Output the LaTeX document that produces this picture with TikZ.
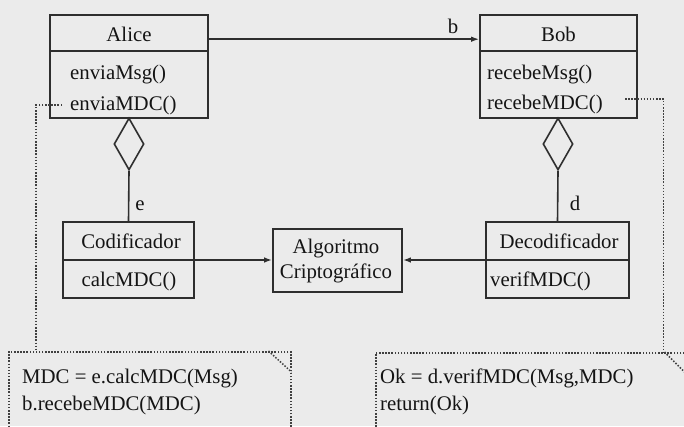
\documentclass[tikz,border=0pt]{standalone}
\usepackage{fontspec}
\setmainfont{Liberation Serif}
\usetikzlibrary{shapes.geometric,arrows.meta,calc}

\begin{document}
\begin{tikzpicture}[x=1pt,y=-1pt,
  ink/.style={draw=black!82, line width=1.6pt},
  classbox/.style={ink, rectangle, inner sep=0pt},
  txt/.style={inner sep=0pt, anchor=base, text=black!92, font=\fontsize{20.8}{24}\selectfont},
  ltxt/.style={txt, anchor=base west},
  assoc/.style={ink, -{Latex[length=8pt,width=5.5pt]}},
  aggr/.style={ink, diamond, minimum width=30pt, minimum height=52pt, inner sep=0pt},
  notedots/.style={draw=black!75, line width=1.5pt, dash pattern=on 1.5pt off 1.6pt},
  notebox/.style={notedots, rectangle, inner sep=0pt, anchor=north west},
]
% page tone and frame
\fill[black!8] (0,0) rectangle (684,426);
\useasboundingbox (0,0) rectangle (684,426);
\clip (0,0) rectangle (684,426);

% ---- classes ----
\node[classbox, minimum width=158pt, minimum height=103pt] (alice) at (129,66.5) {};
\draw[ink] ($(alice.north west)+(0,37)$) -- ($(alice.north east)+(0,37)$);
\node[txt] (aliceT) at (129,41) {Alice};
\node[ltxt] (aliceM1) at (70,79) {enviaMsg()};
\node[ltxt] (aliceM2) at (70,110) {enviaMDC()};

\node[classbox, minimum width=157pt, minimum height=103pt] (bob) at (558.5,66.5) {};
\draw[ink] ($(bob.north west)+(0,37)$) -- ($(bob.north east)+(0,37)$);
\node[txt] (bobT) at (558.5,41) {Bob};
\node[ltxt] (bobM1) at (487,79) {recebeMsg()};
\node[ltxt] (bobM2) at (487,109) {recebeMDC()};

\node[classbox, minimum width=131pt, minimum height=76pt] (cod) at (128.5,260) {};
\draw[ink] ($(cod.north west)+(0,39)$) -- ($(cod.north east)+(0,39)$);
\node[txt] (codT) at (131,248) {Codificador};
\node[txt] (codM) at (129,286) {calcMDC()};

\node[classbox, minimum width=129pt, minimum height=63pt] (alg) at (337.5,260.5) {};
\node[txt] (algT1) at (336,253) {Algoritmo};
\node[txt] (algT2) at (336,278) {Criptográfico};

\node[classbox, minimum width=143pt, minimum height=76pt] (dec) at (557.5,260) {};
\draw[ink] ($(dec.north west)+(0,39)$) -- ($(dec.north east)+(0,39)$);
\node[txt] (decT) at (559,248) {Decodificador};
\node[ltxt] (decM) at (490,286) {verifMDC()};

% ---- relations ----
\draw[assoc] ([yshift=-25pt]alice.north east) -- ([yshift=-25pt]bob.north west);
\node[txt] (lblB) at (453,33) {b};

\node[aggr] (adia) at (129,144) {};
\draw[ink] (adia.south) -- (cod.north);
\node[txt] (lblE) at (140,210) {e};

\node[aggr] (bdia) at (558,144) {};
\draw[ink] (bdia.south) -- (dec.north);
\node[txt] (lblD) at (575,210) {d};

\draw[assoc] (cod.east) -- (cod.east -| alg.west);
\draw[assoc] (dec.west) -- (dec.west -| alg.east);

% ---- notes ----
\node[notebox, minimum width=282pt, minimum height=100pt] (note1) at (8,351) {};
\draw[notedots] ([xshift=-23pt]note1.north east) -- ([yshift=-21pt]note1.north east);
\node[ltxt] (n1a) at (22,383) {MDC = e.calcMDC(Msg)};
\node[ltxt] (n1b) at (22,410) {b.recebeMDC(MDC)};

\node[notebox, minimum width=312pt, minimum height=100pt] (note2) at (375,352) {};
\draw[notedots] ([xshift=-24pt]note2.north east) -- ([yshift=-24pt]note2.north east);
\node[ltxt] (n2a) at (380,383) {Ok = d.verifMDC(Msg,MDC)};
\node[ltxt] (n2b) at (380,410) {return(Ok)};

\coordinate (aliceTap) at (62,105);
\draw[notedots] (aliceTap) -| ($(note1.north west)+(28,0)$);
\coordinate (bobTap) at (625,99);
\draw[notedots] (bobTap) -| ([xshift=-25pt]note2.north east);
\end{tikzpicture}
\end{document}
